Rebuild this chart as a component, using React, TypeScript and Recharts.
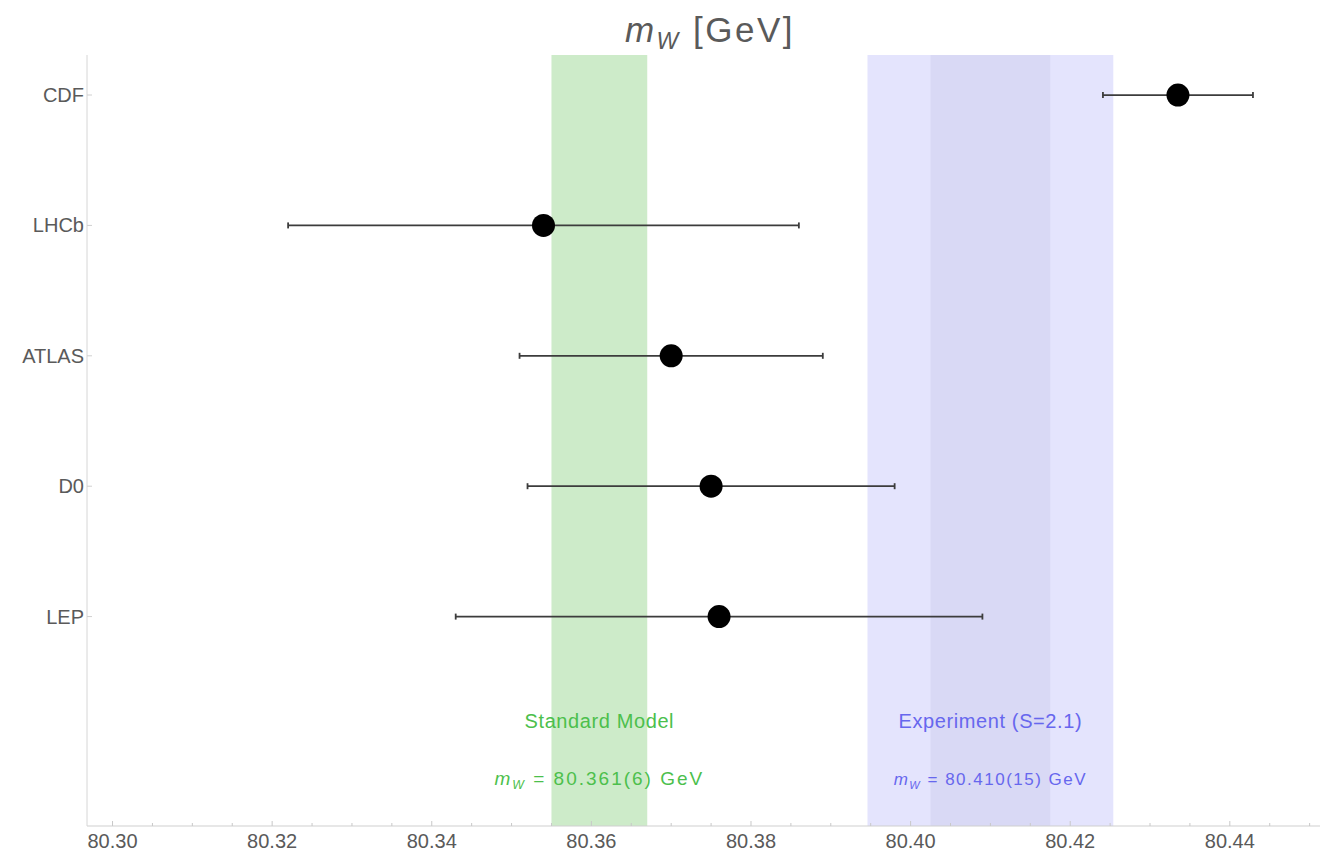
import React from 'react';
import { ComposedChart, Scatter, ErrorBar, XAxis, YAxis, ReferenceArea } from 'recharts';

// W boson mass measurements (GeV)
const experiments = ['CDF', 'LHCb', 'ATLAS', 'D0', 'LEP'];
const mwValues = [80.4335, 80.354, 80.37, 80.375, 80.376];
const mwErrors = [0.0094, 0.032, 0.019, 0.023, 0.033];

// bands
const smValue = 80.361;
const smError = 0.006;
const expValue = 80.41;
const expError = 0.0154; // scaled, S=2.1
const expInnerError = 0.0075;

const majorTicks = [80.3, 80.32, 80.34, 80.36, 80.38, 80.4, 80.42, 80.44];
const xTicks: number[] = [];
for (let i = 0; i <= 30; i++) xTicks.push(Math.round((80.3 + i * 0.005) * 1000) / 1000);

const FONT = '"Liberation Sans", Arial, Helvetica, sans-serif';
const TEXT = '#5a5a5a';

const points = experiments.map((name, i) => ({ name, x: mwValues[i], y: i, err: mwErrors[i] }));

function XTick(props: any) {
  const { x, y, payload } = props;
  const v = payload.value;
  const isMajor = majorTicks.some(m => Math.abs(m - v) < 1e-6);
  return (
    <g>
      <line x1={x} x2={x} y1={y} y2={y - (isMajor ? 5 : 3)} stroke="#c8c8c8" strokeWidth={1} />
      {isMajor && (
        <text x={x} y={y + 22} textAnchor="middle" fontFamily={FONT} fontSize={20} fill={TEXT}>
          {v.toFixed(2)}
        </text>
      )}
    </g>
  );
}

function YTick(props: any) {
  const { x, y, payload } = props;
  return (
    <g>
      <line x1={x} x2={x + 5} y1={y} y2={y} stroke="#d0d0d0" strokeWidth={1} />
      <text x={x - 3} y={y + 7} textAnchor="end" fontFamily={FONT} fontSize={20} fill={TEXT}>
        {experiments[payload.value]}
      </text>
    </g>
  );
}

function BandLabel(props: any) {
  const { viewBox, title, value, color, size, spacing } = props;
  if (!viewBox) return null;
  const cx = viewBox.x + viewBox.width / 2;
  const bottom = viewBox.y + viewBox.height;
  return (
    <g fontFamily={FONT} fill={color}>
      <text x={cx} y={bottom - 98} textAnchor="middle" fontSize={20} letterSpacing={0.6}>
        {title}
      </text>
      <text x={cx} y={bottom - 41} textAnchor="middle" fontSize={size} letterSpacing={spacing}>
        <tspan fontStyle="italic">m</tspan>
        <tspan fontStyle="italic" fontSize={size * 0.65} dy={4}>W</tspan>
        <tspan dy={-4}>{` = ${value} GeV`}</tspan>
      </text>
    </g>
  );
}

export default function App() {
  const domain: [number, number] = [80.2968, 80.4513];
  return (
    <div style={{ position: 'absolute', left: 0, top: 0, width: 1320, height: 852, background: '#fff' }}>
      <div
        style={{
          position: 'absolute',
          left: 710,
          top: 11,
          transform: 'translateX(-50%)',
          fontFamily: FONT,
          fontSize: 35,
          letterSpacing: 2.5,
          lineHeight: '38px',
          color: TEXT,
          whiteSpace: 'nowrap',
        }}
      >
        <i>m</i>
        <sub style={{ fontSize: 23, fontStyle: 'italic', verticalAlign: '-7px' }}>W</sub> [GeV]
      </div>
      <ComposedChart width={1320} height={852} margin={{ top: 55, right: 0, bottom: 0, left: 0 }}>
        <XAxis
          xAxisId="top"
          orientation="top"
          type="number"
          dataKey="x"
          domain={domain}
          allowDataOverflow
          height={0}
          tick={false}
          tickLine={false}
          axisLine={{ stroke: '#e6e6e6' }}
        />
        <XAxis
          type="number"
          dataKey="x"
          domain={domain}
          allowDataOverflow
          ticks={xTicks}
          interval={0}
          height={26}
          tickSize={0}
          tickMargin={0}
          tickLine={false}
          axisLine={{ stroke: '#cfcfcf' }}
          tick={<XTick />}
        />
        <YAxis
          type="number"
          dataKey="y"
          domain={[-0.307, 5.606]}
          allowDataOverflow
          reversed
          ticks={[0, 1, 2, 3, 4]}
          interval={0}
          width={87}
          tickSize={0}
          tickMargin={0}
          tickLine={false}
          axisLine={{ stroke: '#d6d6d6' }}
          tick={<YTick />}
        />
        <ReferenceArea
          x1={smValue - smError}
          x2={smValue + smError}
          fill="#cdebc9"
          fillOpacity={1}
          stroke="none"
          label={<BandLabel title="Standard Model" value="80.361(6)" color="#4cbf4c" size={19} spacing={2} />}
        />
        <ReferenceArea
          x1={expValue - expError}
          x2={expValue + expError}
          fill="#e4e4fd"
          fillOpacity={1}
          stroke="none"
        />
        <ReferenceArea
          x1={expValue - expInnerError}
          x2={expValue + expInnerError}
          fill="#d9d9f5"
          fillOpacity={1}
          stroke="none"
          label={<BandLabel title="Experiment (S=2.1)" value="80.410(15)" color="#6767ee" size={17} spacing={1.5} />}
        />
        <Scatter
          data={points}
          isAnimationActive={false}
          shape={(p: any) => <circle cx={p.cx} cy={p.cy} r={11.5} fill="#000" />}
        >
          <ErrorBar dataKey="err" direction="x" width={3} stroke="#3c3c3c" strokeWidth={1.8} isAnimationActive={false} />
        </Scatter>
      </ComposedChart>
    </div>
  );
}
